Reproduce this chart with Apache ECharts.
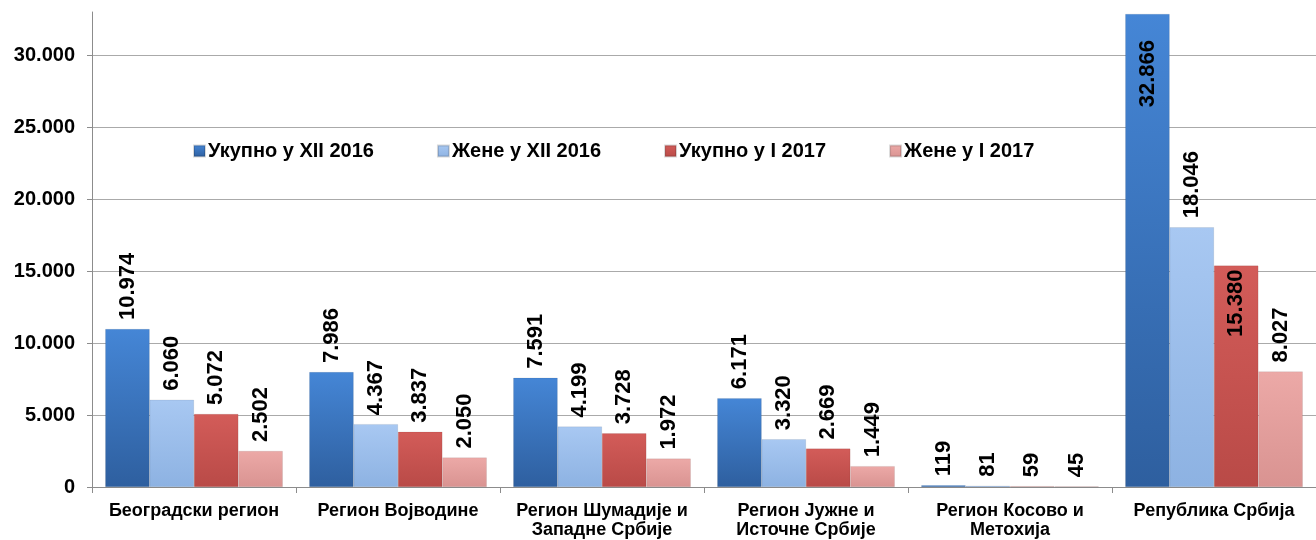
<!DOCTYPE html>
<html><head><meta charset="utf-8">
<script src="https://cdn.jsdelivr.net/npm/echarts@6/dist/echarts.min.js"></script>
<style>html,body{margin:0;padding:0;background:#fff}#c{width:1316px;height:540px}</style>
</head><body><div id="c"></div>
<script>
const categories = ['Београдски регион', 'Регион Војводине', 'Регион Шумадије и\nЗападне Србије', 'Регион Јужне и\nИсточне Србије', 'Регион Косово и\nМетохија', 'Република Србија'];
const seriesNames = ['Укупно у XII 2016', 'Жене у XII 2016', 'Укупно у I 2017', 'Жене у I 2017'];
const totalDec2016 = [10974, 7986, 7591, 6171, 119, 32866];
const womenDec2016 = [6060, 4367, 4199, 3320, 81, 18046];
const totalJan2017 = [5072, 3837, 3728, 2669, 59, 15380];
const womenJan2017 = [2502, 2050, 1972, 1449, 45, 8027];
const yTicks = [0, 5000, 10000, 15000, 20000, 25000, 30000];

const FONT = '"Liberation Sans", Arial, sans-serif';
function grad(top, bottom) {
  return new echarts.graphic.LinearGradient(0, 0, 0, 1, [{offset: 0, color: top}, {offset: 1, color: bottom}]);
}
const colors = [
  grad('#4586d6', '#2e5f9f'),
  grad('#a8c8f2', '#8db2e2'),
  grad('#d35c59', '#b94a47'),
  grad('#eca9a7', '#d99391')
];
const fmt = v => v.toLocaleString('de-DE');
const baseLabel = {
  show: true, position: 'top', rotate: 90, align: 'left', verticalAlign: 'middle',
  distance: 9, color: '#000', fontFamily: FONT, fontWeight: 'bold', fontSize: 22,
  formatter: p => fmt(p.value)
};
function mkData(arr, insideIdx) {
  return arr.map((v, i) => {
    if (insideIdx && insideIdx[i] !== undefined) {
      return {value: v, label: {position: 'insideTop', align: 'right', distance: insideIdx[i]}};
    }
    return v;
  });
}
const allData = [
  mkData(totalDec2016, {5: 26}),
  mkData(womenDec2016),
  mkData(totalJan2017, {5: 4}),
  mkData(womenJan2017)
];
const chart = echarts.init(document.getElementById('c'), null, {renderer: 'canvas'});
chart.setOption({
  animation: false,
  backgroundColor: '#fff',
  legend: {
    left: 188, top: 136, itemWidth: 11, itemHeight: 11, itemGap: 63,
    icon: 'rect',
    textStyle: {fontFamily: FONT, fontWeight: 'bold', fontSize: 20, color: '#000', padding: [0, 0, 0, -2]},
    data: seriesNames
  },
  grid: {left: 92, right: 0, top: 12, bottom: 52, containLabel: false},
  xAxis: {
    type: 'category', data: categories,
    axisLine: {lineStyle: {color: '#8c8c8c', width: 1}},
    axisTick: {show: true, length: 6, lineStyle: {color: '#8c8c8c'}},
    axisLabel: {fontFamily: FONT, fontWeight: 'bold', fontSize: 18, color: '#000', margin: 15, lineHeight: 19, interval: 0}
  },
  yAxis: {
    type: 'value', min: 0, max: 33000, interval: 5000,
    axisLine: {show: true, lineStyle: {color: '#8c8c8c', width: 1}},
    axisTick: {show: true, length: 5, lineStyle: {color: '#8c8c8c'}},
    splitLine: {showMaxLine: false, lineStyle: {color: '#aaaaaa', width: 1}},
    axisLabel: {fontFamily: FONT, fontWeight: 'bold', fontSize: 20, color: '#000', margin: 17, showMaxLabel: false,
      formatter: v => yTicks.indexOf(v) >= 0 ? fmt(v) : ''}
  },
  series: seriesNames.map((n, i) => ({
    name: n, type: 'bar', data: allData[i],
    barGap: '0%', barCategoryGap: '13%',
    itemStyle: {color: colors[i], borderColor: 'rgba(0,0,0,0.15)', borderWidth: 0.5},
    label: baseLabel
  }))
});
</script></body></html>
